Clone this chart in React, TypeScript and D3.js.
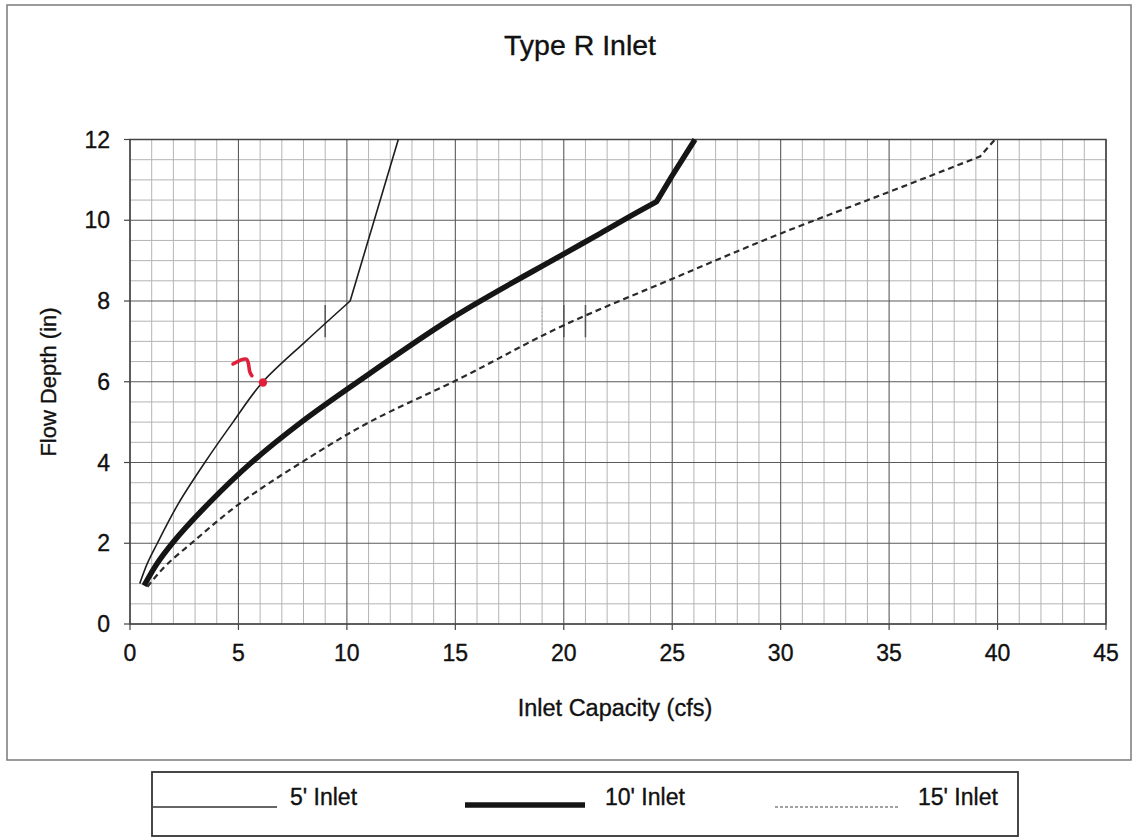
import React from "react";
import * as d3 from "d3";

// ---- Data ----
const depth5 = [1.0, 1.5, 2, 3, 4, 5, 6, 7, 8, 12];
const cap5 = [0.45, 0.8, 1.26, 2.25, 3.45, 4.75, 6.13, 8.1, 10.15, 12.37];
const kink5 = 8; // index where the curve breaks into a straight segment

const depth10 = [0.95, 1.5, 2, 3, 4, 5, 6.21, 7.65, 9.18, 9.67, 10.2, 10.46, 11.08, 12];
const cap10 = [0.65, 1.25, 1.95, 3.65, 5.6, 7.9, 11.07, 15.06, 20.05, 21.67, 23.4, 24.28, 24.97, 26.05];
const kink10 = 11;

const depth15 = [0.92, 1.5, 2, 3, 4, 5.01, 6.04, 7.41, 8.56, 9.68, 10.71, 11.58, 12];
const cap15 = [0.8, 1.75, 2.83, 5.1, 7.9, 11.07, 15.06, 20.05, 25.05, 30.04, 35.04, 39.19, 39.88];
const kink15 = 11;

const xTicks = [0, 5, 10, 15, 20, 25, 30, 35, 40, 45];
const yTicks = [0, 2, 4, 6, 8, 10, 12];

const legendLabels = ["5' Inlet", "10' Inlet", "15' Inlet"];

// hand annotation (red) in data coordinates
const markCap = [4.75, 5.36, 5.52, 5.62];
const markDepth = [6.44, 6.56, 6.25, 6.15];
const markDot = [6.13, 5.98];

// small scan marks on the chart
const scanCap = [8, 9, 19, 20, 21];
const scanStrong = [0, 1, 0, 1, 1];

const FONT = "Arial, 'Liberation Sans', Helvetica, sans-serif";

export default function App() {
  const W = 1134;
  const H = 837;
  const x = d3.scaleLinear().domain([0, 45]).range([130, 1106]);
  const y = d3.scaleLinear().domain([0, 12]).range([624, 139.5]);

  const smooth = d3
    .line<[number, number]>()
    .x((d) => x(d[0]))
    .y((d) => y(d[1]))
    .curve(d3.curveMonotoneY);
  const straight = d3
    .line<[number, number]>()
    .x((d) => x(d[0]))
    .y((d) => y(d[1]));

  const seriesPath = (caps: number[], depths: number[], k: number) => {
    const pts = caps.map((c, i) => [c, depths[i]] as [number, number]);
    const a = smooth(pts.slice(0, k + 1)) || "";
    const b = (straight(pts.slice(k)) || "").replace(/^M[^L]*/, "");
    return a + b;
  };

  const minorX = d3.range(0, 46, 1).filter((v) => v % 5 !== 0);
  const minorY = d3.range(0, 12.01, 0.5).filter((v) => v % 2 !== 0);

  const markLine = d3
    .line<[number, number]>()
    .x((d) => x(d[0]))
    .y((d) => y(d[1]))
    .curve(d3.curveCardinal);
  const mark = markCap.map((c, i) => [c, markDepth[i]] as [number, number]);

  const txt = { fill: "#111", stroke: "#111", strokeWidth: 0.35 };

  return (
    <svg
      width={W}
      height={H}
      style={{ position: "absolute", left: 0, top: 0, background: "#fff" }}
      fontFamily={FONT}
    >
      {/* outer chart frame */}
      <rect x={7} y={5} width={1124} height={755} fill="#fff" stroke="#7a7a7a" strokeWidth={1.5} />

      {/* title */}
      <text x={580} y={55} textAnchor="middle" fontSize={28.5} {...txt}>
        Type R Inlet
      </text>

      {/* minor grid */}
      <g stroke="#b4b4b4" strokeWidth={1}>
        {minorX.map((v) => (
          <line key={"mx" + v} x1={x(v)} x2={x(v)} y1={y(0)} y2={y(12)} />
        ))}
        {minorY.map((v) => (
          <line key={"my" + v} x1={x(0)} x2={x(45)} y1={y(v)} y2={y(v)} />
        ))}
      </g>
      {/* major grid */}
      <g stroke="#5a5a5a" strokeWidth={1.1}>
        {xTicks.map((v) => (
          <line key={"Mx" + v} x1={x(v)} x2={x(v)} y1={y(0)} y2={y(12)} />
        ))}
        {yTicks.map((v) => (
          <line key={"My" + v} x1={x(0)} x2={x(45)} y1={y(v)} y2={y(v)} />
        ))}
      </g>
      {/* plot border */}
      <rect x={x(0)} y={y(12)} width={x(45) - x(0)} height={y(0) - y(12)} fill="none" stroke="#444" strokeWidth={1.5} />

      {/* ticks */}
      <g stroke="#444" strokeWidth={1.2}>
        {xTicks.map((v) => (
          <line key={"tx" + v} x1={x(v)} x2={x(v)} y1={y(0)} y2={y(0) + 6} />
        ))}
        {yTicks.map((v) => (
          <line key={"ty" + v} x1={x(0) - 6} x2={x(0)} y1={y(v)} y2={y(v)} />
        ))}
      </g>
      <g fontSize={23} {...txt}>
        {xTicks.map((v) => (
          <text key={"lx" + v} x={x(v)} y={y(0) + 37} textAnchor="middle">
            {v}
          </text>
        ))}
        {yTicks.map((v) => (
          <text key={"ly" + v} x={x(0) - 20} y={y(v) + 8} textAnchor="end">
            {v}
          </text>
        ))}
      </g>

      {/* axis titles */}
      <text x={615} y={716} textAnchor="middle" fontSize={23.5} {...txt}>
        Inlet Capacity (cfs)
      </text>
      <text
        transform={`translate(56, ${382}) rotate(-90)`}
        textAnchor="middle"
        fontSize={22}
        {...txt}
      >
        Flow Depth (in)
      </text>

      {/* scan marks */}
      <g>
        {scanCap.map((c, i) => (
          <line
            key={"sc" + i}
            x1={x(c)}
            x2={x(c)}
            y1={y(7.1)}
            y2={y(7.9)}
            stroke={scanStrong[i] ? "#555" : "#aaa"}
            strokeWidth={scanStrong[i] ? 1.5 : 1}
            strokeDasharray={scanStrong[i] ? undefined : "2,2"}
          />
        ))}
      </g>

      {/* series */}
      <path d={seriesPath(cap15, depth15, kink15)} fill="none" stroke="#2a2a2a" strokeWidth={2.2} strokeDasharray="6,4" />
      <path d={seriesPath(cap10, depth10, kink10)} fill="none" stroke="#151515" strokeWidth={5.5} strokeLinejoin="round" />
      <path d={seriesPath(cap5, depth5, kink5)} fill="none" stroke="#1e1e1e" strokeWidth={1.6} />

      {/* red hand annotation */}
      <path d={markLine(mark) || ""} fill="none" stroke="#e0203a" strokeWidth={3.6} strokeLinecap="round" />
      <circle cx={x(markDot[0])} cy={y(markDot[1])} r={4.2} fill="#e0203a" />

      {/* legend */}
      <rect x={152} y={772} width={866} height={64} fill="#fff" stroke="#333" strokeWidth={1.8} />
      <line x1={153} x2={277} y1={807} y2={807} stroke="#333" strokeWidth={1.5} />
      <line x1={465} x2={585} y1={805} y2={805} stroke="#151515" strokeWidth={5.5} />
      <line x1={775} x2={900} y1={807} y2={807} stroke="#444" strokeWidth={1.2} strokeDasharray="3,2" />
      <g fontSize={23} {...txt}>
        <text x={290} y={805}>{legendLabels[0]}</text>
        <text x={605} y={805}>{legendLabels[1]}</text>
        <text x={918} y={805}>{legendLabels[2]}</text>
      </g>
    </svg>
  );
}
